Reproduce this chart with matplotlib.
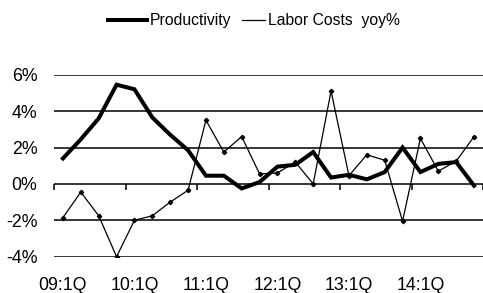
import matplotlib.pyplot as plt
import numpy as np

plt.rcParams['font.family'] = ['Liberation Sans', 'DejaVu Sans']

quarters = ['%02d:%dQ' % (y, q) for y in range(9, 15) for q in range(1, 5)]
productivity = [1.4, 2.45, 3.6, 5.45, 5.2, 3.65, 2.7, 1.85, 0.45, 0.45, -0.25, 0.1,
                0.95, 1.05, 1.75, 0.35, 0.5, 0.25, 0.65, 2.0, 0.65, 1.1, 1.2, -0.1]
labor_costs = [-1.85, -0.45, -1.75, -4.0, -2.0, -1.75, -1.0, -0.35, 3.5, 1.75, 2.6, 0.55,
               0.6, 1.2, 0.0, 5.1, 0.45, 1.6, 1.3, -2.05, 2.5, 0.7, 1.25, 2.6]
yticks = [-4, -2, 0, 2, 4, 6]
ylabels = ['-4%', '-2%', '0%', '2%', '4%', '6%']

x = np.arange(len(quarters))

fig = plt.figure(figsize=(4.83, 2.93), dpi=100)
ax = fig.add_axes([54 / 483, 36.3 / 293, 429 / 483, 182 / 293])

# gridlines
for v in yticks:
    ax.axhline(v, color='black', lw=1.1, zorder=1)

p1, = ax.plot(x, productivity, color='black', lw=2.9, zorder=3,
              solid_joinstyle='miter')
p2, = ax.plot(x, labor_costs, color='black', lw=0.9, marker='D', ms=2.2, zorder=4)

ax.set_xlim(-0.5, len(quarters) - 0.5)
ax.set_ylim(-4, 6)
for s in ax.spines.values():
    s.set_visible(False)

# category boundary ticks on the 0% line
ax.spines['bottom'].set_position(('data', 0))
ax.set_xticks(np.arange(-0.5, len(quarters), 4))
ax.tick_params(axis='x', length=4.5, width=1.1, direction='out', labelbottom=False)

ax.set_yticks(yticks)
ax.set_yticklabels(ylabels)
ax.tick_params(axis='y', length=0, pad=12, labelsize=12.8)

# labels along the bottom
sec = ax.secondary_xaxis(0)
sec.set_xticks(x[::4])
sec.set_xticklabels(quarters[::4])
sec.tick_params(length=0, pad=14.5, labelsize=12.8)
sec.spines['bottom'].set_visible(False)

leg1 = fig.legend([p1], ['Productivity'], loc='center left', bbox_to_anchor=(100 / 483, 1 - 21 / 293),
                  frameon=False, borderpad=0, handlelength=2.5, handletextpad=0.2, fontsize=11.3)
leg2 = fig.legend([p2], ['Labor Costs  yoy%'], loc='center left', bbox_to_anchor=(234 / 483, 1 - 21 / 293),
                  frameon=False, borderpad=0, handlelength=1.5, handletextpad=0.15, fontsize=11.3)
leg2.legend_handles[0].set_marker('')

fig.savefig('out.png', dpi=100)
